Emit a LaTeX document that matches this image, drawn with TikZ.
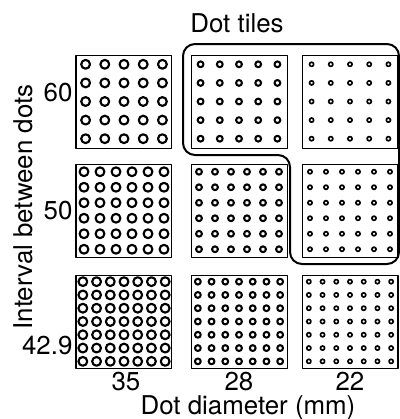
\documentclass[tikz,border=0pt]{standalone}
\usepackage{fontspec}
\setmainfont{TeX Gyre Heros}
\begin{document}
\begin{tikzpicture}[x=0.75pt,y=-0.75pt,line join=round,line cap=round,font=\fontsize{19.4}{21}\selectfont,declare function={w=96; h=93;}]
	\useasboundingbox (0,0) rectangle (400,419);
	% tiles: column x, dot radius, ring width / row y, dots per side
	\foreach \x/\rd/\lw in {76/4.4/1.6,191/2.9/1.55,302/2.1/1.25}
	\foreach \y/\n in {55/5,164/6,275/7}{
		\draw[line width=0.75pt] (\x,\y) rectangle ++(w,h);
		\foreach \i in {1,...,\n}
		\foreach \j in {1,...,\n}
		\draw[line width=\lw pt] ({\x+w*(\i-0.5)/\n},{\y+h*(\j-0.5)/\n}) circle[radius=\rd];
	}
	\draw[line width=1.5pt,rounded corners=9pt] (183,44)--(399,44)--(399,264)--(290,264)--(290,155)--(183,155)--cycle;
	\node[anchor=base] (ttl) at (237,32) {Dot tiles};
	\foreach \y/\t/\nm in {93/60/i60,211/50/i50,346/42.9/i43}
	\node[anchor=east,inner sep=1pt] (\nm) at (74,\y) {\t};
	\foreach \x/\t in {126/35,239/28,350/22}
	\node[anchor=base,inner sep=0pt] (d\t) at (\x,390) {\t};
	\node[anchor=base,inner sep=0pt] (xlab) at (248,414) {Dot diameter (mm)};
	\node[anchor=base,rotate=90] (ylab) at (32,207) {Interval between dots};
\end{tikzpicture}
\end{document}
